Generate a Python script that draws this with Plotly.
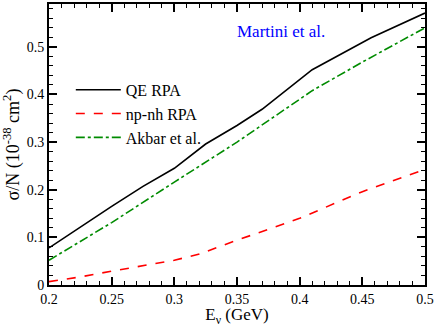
import plotly.graph_objects as go

# energies (GeV) and cross sections per nucleon (10^-38 cm^2)
e_qe = [0.2, 0.225, 0.25, 0.275, 0.3, 0.325, 0.35, 0.37, 0.41, 0.457, 0.5]
qe_rpa = [0.078, 0.122, 0.165, 0.207, 0.245, 0.296, 0.335, 0.369, 0.452, 0.519, 0.571]

e_np = [0.2, 0.225, 0.25, 0.275, 0.3, 0.32, 0.336, 0.35, 0.4, 0.45, 0.5]
np_rpa = [0.007, 0.017, 0.029, 0.041, 0.052, 0.065, 0.081, 0.094, 0.140, 0.196, 0.243]

e_ak = [0.2, 0.25, 0.3, 0.35, 0.41, 0.45, 0.5]
akbar = [0.052, 0.131, 0.216, 0.300, 0.408, 0.468, 0.540]

font = "Liberation Serif, Times New Roman, serif"

fig = go.Figure()
fig.add_trace(go.Scatter(x=e_qe, y=qe_rpa, mode="lines", name="QE RPA",
                         line=dict(color="black", width=1.6)))
fig.add_trace(go.Scatter(x=e_np, y=np_rpa, mode="lines", name="np-nh RPA",
                         line=dict(color="#ff0000", width=1.6, dash="dash")))
fig.add_trace(go.Scatter(x=e_ak, y=akbar, mode="lines", name="Akbar et al.",
                         line=dict(color="#008b00", width=1.6, dash="dashdot")))

axis_common = dict(showgrid=False, zeroline=False, showline=True, linecolor="black",
                   linewidth=2, mirror="ticks", ticks="inside", ticklen=8, tickwidth=1.5,
                   tickcolor="black", ticklabeloverflow="allow",
                   tickfont=dict(family=font, size=14, color="black"))

fig.update_xaxes(range=[0.2, 0.5], dtick=0.05, tick0=0.2,
                 minor=dict(dtick=0.01, ticks="inside", ticklen=4, tickcolor="black", tickwidth=1.2),
                 title=dict(text="E<sub>ν</sub> (GeV)", font=dict(family=font, size=17, color="black"),
                            standoff=6),
                 **axis_common)
fig.update_yaxes(range=[0, 0.59], dtick=0.1, tick0=0,
                 minor=dict(dtick=0.02, ticks="inside", ticklen=4, tickcolor="black", tickwidth=1.2),
                 title=dict(text="σ/N (10<sup>-38</sup> cm<sup>2</sup>)",
                            font=dict(family=font, size=18, color="black"), standoff=4),
                 **axis_common)

fig.add_annotation(x=0.385, y=0.532, xref="x", yref="y", text="Martini et al.",
                   showarrow=False, font=dict(family=font, size=17, color="#0000ff"))

fig.update_layout(
    width=436, height=327,
    margin=dict(l=49, r=9, t=2, b=38),
    paper_bgcolor="white", plot_bgcolor="white",
    showlegend=True,
    legend=dict(x=0.058, y=0.755, xanchor="left", yanchor="top", bgcolor="rgba(0,0,0,0)",
                font=dict(family=font, size=16, color="black"), tracegroupgap=0,
                itemwidth=45),
)

fig.write_html("out.html", config={"displayModeBar": False},
               post_script="document.body.style.margin='0';")
